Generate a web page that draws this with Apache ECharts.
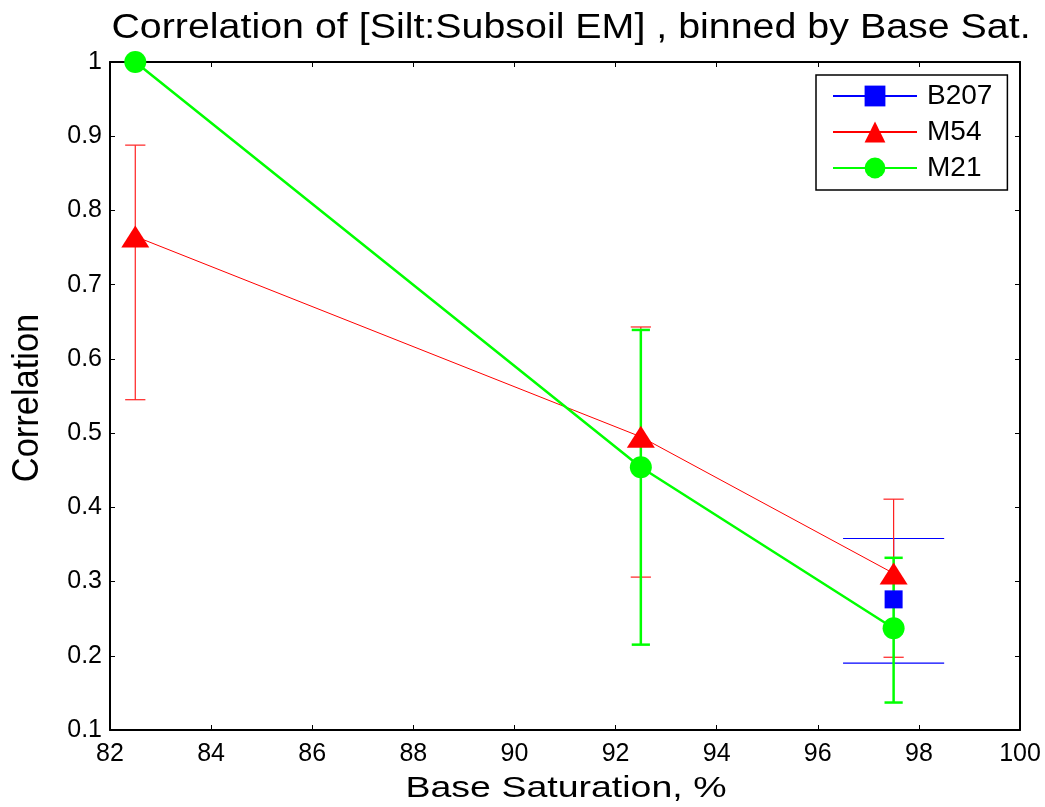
<!DOCTYPE html>
<html>
<head>
<meta charset="utf-8">
<script src="https://cdn.jsdelivr.net/npm/echarts@6/dist/echarts.min.js"></script>
<style>
  html, body { margin: 0; padding: 0; background: #fff; }
  #chart { width: 1045px; height: 807px; }
</style>
</head>
<body>
<div id="chart"></div>
<script>
// Bin centres (Base Saturation, %)
const binsM54 = [82.5, 92.5, 97.5];
const binsM21 = [82.5, 92.5, 97.5];
const binsB207 = [97.5];

// Mean correlation per bin
const corrM54 = [0.765, 0.495, 0.311];
const corrM21 = [1.0, 0.454, 0.237];
const corrB207 = [0.276];

// Error bar limits (lower, upper) per bin
const lowM54 = [0.545, 0.306, 0.198];
const highM54 = [0.888, 0.643, 0.411];
const lowM21 = [1.0, 0.215, 0.137];
const highM21 = [1.0, 0.639, 0.332];
const lowB207 = [0.190];
const highB207 = [0.358];

const xTicks = [82, 84, 86, 88, 90, 92, 94, 96, 98, 100];
const yTicks = [0.1, 0.2, 0.3, 0.4, 0.5, 0.6, 0.7, 0.8, 0.9, 1];

const FONT = 'Liberation Sans, Arial, Helvetica, sans-serif';

function pts(xs, ys) { return xs.map((x, i) => [x, ys[i]]); }
function errRows(xs, lo, hi) { return xs.map((x, i) => [x, lo[i], hi[i]]); }

// Vertical error bar with horizontal caps of given half-width (x units)
function errorBar(color, width, capHalf) {
  return function (params, api) {
    const x = api.value(0);
    const lo = api.value(1);
    const hi = api.value(2);
    if (lo === hi) return null;
    const pLo = api.coord([x, lo]);
    const pHi = api.coord([x, hi]);
    const cL = api.coord([x - capHalf, lo])[0];
    const cR = api.coord([x + capHalf, lo])[0];
    const style = { stroke: color, lineWidth: width, fill: null };
    return {
      type: 'group',
      children: [
        { type: 'line', shape: { x1: pLo[0], y1: pLo[1], x2: pHi[0], y2: pHi[1] }, style },
        { type: 'line', shape: { x1: cL, y1: pLo[1], x2: cR, y2: pLo[1] }, style },
        { type: 'line', shape: { x1: cL, y1: pHi[1], x2: cR, y2: pHi[1] }, style }
      ]
    };
  };
}

const chart = echarts.init(document.getElementById('chart'), null, { renderer: 'canvas' });

const axisLine = { show: true, lineStyle: { color: '#000', width: 2 } };
const tickIn = { show: true, inside: true, length: 5, lineStyle: { color: '#000', width: 1 } };

chart.setOption({
  animation: false,
  backgroundColor: '#fff',
  // Title and axis titles, drawn as text with a slight horizontal stretch
  graphic: [
    {
      type: 'text', x: 571, y: 28, scaleX: 1.125, silent: true,
      style: {
        text: 'Correlation of [Silt:Subsoil EM] , binned by Base Sat.',
        fontFamily: FONT, fontSize: 35, fill: '#000',
        align: 'center', verticalAlign: 'middle'
      }
    },
    {
      type: 'text', x: 566, y: 789, scaleX: 1.25, silent: true,
      style: {
        text: 'Base Saturation, %',
        fontFamily: FONT, fontSize: 30, fill: '#000',
        align: 'center', verticalAlign: 'middle'
      }
    },
    {
      type: 'text', x: 28, y: 398, rotation: Math.PI / 2, scaleX: 0.93, silent: true,
      style: {
        text: 'Correlation',
        fontFamily: FONT, fontSize: 37, fill: '#000',
        align: 'center', verticalAlign: 'middle'
      }
    }
  ],
  legend: {
    orient: 'vertical',
    left: 816, top: 75,
    padding: [7, 15, 8, 16],
    itemGap: 8,
    itemWidth: 84, itemHeight: 26,
    borderColor: '#000', borderWidth: 1.5,
    backgroundColor: '#fff',
    textStyle: { fontFamily: FONT, fontSize: 28, color: '#000', padding: [0, 0, 0, 5] },
    data: ['B207', 'M54', 'M21']
  },
  grid: { left: 110, width: 910, top: 62, height: 668, containLabel: false },
  xAxis: [{
    type: 'value', min: 82, max: 100, interval: 2,
    axisLine, axisTick: tickIn, splitLine: { show: false },
    axisLabel: { fontFamily: FONT, fontSize: 25, color: '#000', margin: 12,
      formatter: v => xTicks.includes(v) ? String(v) : '' }
  }, {
    type: 'value', min: 82, max: 100, interval: 2, position: 'top',
    axisLine, axisTick: tickIn, axisLabel: { show: false }, splitLine: { show: false }
  }],
  yAxis: [{
    type: 'value', min: 0.1, max: 1, interval: 0.1,
    axisLine, axisTick: tickIn, splitLine: { show: false },
    axisLabel: { fontFamily: FONT, fontSize: 25, color: '#000', margin: 8,
      formatter: v => {
        const t = yTicks.find(k => Math.abs(k - v) < 1e-6);
        return t === undefined ? '' : String(t);
      } }
  }, {
    type: 'value', min: 0.1, max: 1, interval: 0.1, position: 'right',
    axisLine, axisTick: tickIn, axisLabel: { show: false }, splitLine: { show: false }
  }],
  series: [
    {
      name: 'B207-err', type: 'custom', renderItem: errorBar('#0000ff', 1.2, 1.0),
      data: errRows(binsB207, lowB207, highB207), clip: false, z: 1,
      encode: { x: 0, y: [1, 2] }
    },
    {
      name: 'M54-err', type: 'custom', renderItem: errorBar('#ff2020', 1.2, 0.2),
      data: errRows(binsM54, lowM54, highM54), clip: false, z: 2,
      encode: { x: 0, y: [1, 2] }
    },
    {
      name: 'M21-err', type: 'custom', renderItem: errorBar('#00ff00', 2.5, 0.18),
      data: errRows(binsM21, lowM21, highM21), clip: false, z: 3,
      encode: { x: 0, y: [1, 2] }
    },
    {
      name: 'B207', type: 'line', data: pts(binsB207, corrB207),
      symbol: 'rect', symbolSize: 18, clip: false, z: 4,
      itemStyle: { color: '#0000ff' }, lineStyle: { color: '#0000ff', width: 1 }
    },
    {
      name: 'M54', type: 'line', data: pts(binsM54, corrM54),
      symbol: 'triangle', symbolSize: [28, 22], clip: false, z: 5,
      itemStyle: { color: '#ff0000' }, lineStyle: { color: '#ff0000', width: 1 }
    },
    {
      name: 'M21', type: 'line', data: pts(binsM21, corrM21),
      symbol: 'circle', symbolSize: 22, clip: false, z: 6,
      itemStyle: { color: '#00ff00' }, lineStyle: { color: '#00ff00', width: 2.5 }
    }
  ]
});
</script>
</body>
</html>
